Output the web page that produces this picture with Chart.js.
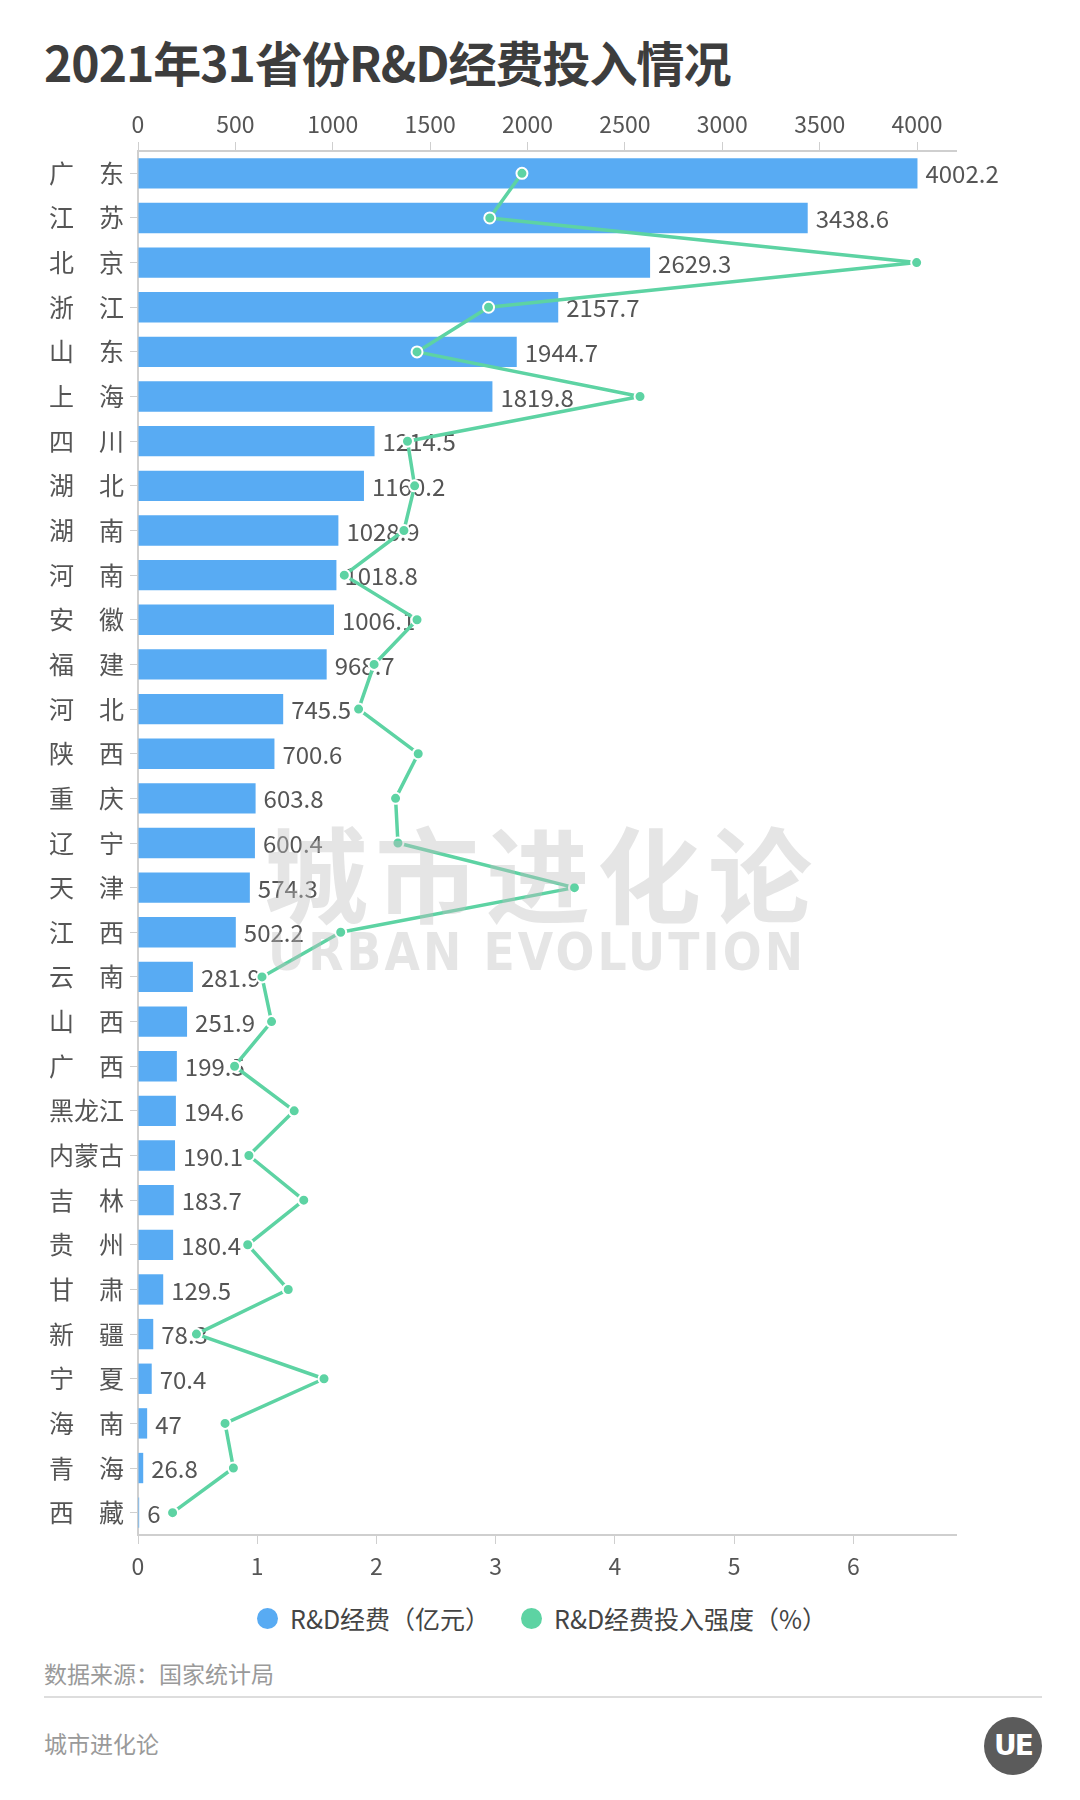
<!DOCTYPE html>
<html>
<head>
<meta charset="utf-8">
<script src="https://cdn.jsdelivr.net/npm/chart.js@4.4.1/dist/chart.umd.min.js"></script>
<style>
  html, body { margin: 0; padding: 0; background: #fff; }
  body { width: 1080px; height: 1800px; position: relative; overflow: hidden; font-family: "Noto Sans CJK SC", "Noto Sans", sans-serif; }
  #chart { position: absolute; left: 0; top: 0; }
  .title { position: absolute; left: 44px; top: 26px; font-size: 48px; font-weight: bold; color: #3d3d3d; letter-spacing: -1px; }
  .wm { position: absolute; pointer-events: none; color: rgba(190,190,190,0.4); font-weight: bold; white-space: nowrap; }
  .wm1 { left: 264px; top: 795px; font-size: 104px; letter-spacing: 7px; }
  .wm2 { left: 268px; top: 922px; font-size: 52px; letter-spacing: 3.5px; font-family: "DejaVu Sans", sans-serif; transform: scaleX(0.88); transform-origin: left top; }
  .legend { position: absolute; top: 1600px; height: 36px; display: flex; align-items: center; font-size: 25px; color: #444; white-space: nowrap; }
  .legend i { display: inline-block; width: 21px; height: 21px; border-radius: 50%; margin-right: 12px; }
  .source { position: absolute; left: 44px; top: 1656px; font-size: 23px; color: #9a9a9a; }
  .rule { position: absolute; left: 44px; top: 1696px; width: 998px; height: 2px; background: #ddd; }
  .brand { position: absolute; left: 44px; top: 1726px; font-size: 23px; color: #9a9a9a; }
  .logo { position: absolute; left: 984px; top: 1717px; width: 58px; height: 58px; border-radius: 50%; background: #5b5b5b; color: #fff; font: bold 28px "DejaVu Sans", sans-serif; text-align: center; line-height: 58px; letter-spacing: -2px; }
</style>
</head>
<body>
<div class="title">2021年31省份R&amp;D经费投入情况</div>
<canvas id="chart" width="1080" height="1600"></canvas>
<div class="wm wm1">城市进化论</div>
<div class="wm wm2">URBAN EVOLUTION</div>
<div class="legend" id="leg1" style="left:257px"></div>
<div class="legend" id="leg2" style="left:521px"></div>
<div class="source">数据来源：国家统计局</div>
<div class="rule"></div>
<div class="brand">城市进化论</div>
<div class="logo">UE</div>
<script>
const provinces = ['广东', '江苏', '北京', '浙江', '山东', '上海', '四川', '湖北', '湖南', '河南',
  '安徽', '福建', '河北', '陕西', '重庆', '辽宁', '天津', '江西', '云南', '山西',
  '广西', '黑龙江', '内蒙古', '吉林', '贵州', '甘肃', '新疆', '宁夏', '海南', '青海', '西藏']

// R&D经费（亿元）
const spending = [4002.2, 3438.6, 2629.3, 2157.7, 1944.7, 1819.8, 1214.5, 1160.2, 1028.9, 1018.8,
  1006.1, 968.7, 745.5, 700.6, 603.8, 600.4, 574.3, 502.2, 281.9, 251.9,
  199.5, 194.6, 190.1, 183.7, 180.4, 129.5, 78.3, 70.4, 47, 26.8, 6]

// R&D经费投入强度（%）
const intensity = [3.22, 2.95, 6.53, 2.94, 2.34, 4.21, 2.26, 2.32, 2.23, 1.73,
  2.34, 1.98, 1.85, 2.35, 2.16, 2.18, 3.66, 1.70, 1.04, 1.12,
  0.81, 1.31, 0.93, 1.39, 0.92, 1.26, 0.49, 1.56, 0.73, 0.80, 0.29]

const topTicks = [0, 500, 1000, 1500, 2000, 2500, 3000, 3500, 4000]
const bottomTicks = [0, 1, 2, 3, 4, 5, 6]
const seriesNames = ['R&D经费（亿元）', 'R&D经费投入强度（%）']

const blue = '#58abf3'
const green = '#5dd3a3'
const axisGray = '#cfcfcf'
const textGray = '#555'

Chart.defaults.font.family = '"Noto Sans CJK SC", "Noto Sans", sans-serif'
Chart.defaults.color = textGray

// value labels to the right of each bar
const barLabels = {
  id: 'barLabels',
  afterDatasetDraw(chart, args) {
    if (args.index !== 0) return
    const ctx = chart.ctx
    ctx.save()
    ctx.font = '24px "Noto Sans CJK SC", sans-serif'
    ctx.fillStyle = textGray
    ctx.textBaseline = 'middle'
    args.meta.data.forEach((bar, i) => {
      ctx.fillText(String(spending[i]), bar.x + 8, bar.y + 1)
    })
    ctx.restore()
  }
}

const keepTicks = list => scale => {
  scale.ticks = list.map(v => ({ value: v }))
}

const chart = new Chart(document.getElementById('chart'), {
  data: {
    labels: provinces,
    datasets: [
      {
        type: 'bar',
        label: seriesNames[0],
        data: spending,
        xAxisID: 'x2',
        backgroundColor: blue,
        barPercentage: 0.68,
        categoryPercentage: 1,
        order: 2
      },
      {
        type: 'line',
        label: seriesNames[1],
        data: intensity,
        xAxisID: 'x',
        borderColor: green,
        backgroundColor: green,
        borderWidth: 3.5,
        borderJoinStyle: 'round',
        pointRadius: 5.5,
        pointBackgroundColor: green,
        pointBorderColor: '#fff',
        pointBorderWidth: 2,
        order: 1
      }
    ]
  },
  options: {
    indexAxis: 'y',
    responsive: false,
    devicePixelRatio: 1,
    animation: false,
    layout: { padding: { left: 0, right: 124, top: 0, bottom: 0 } },
    scales: {
      y: {
        type: 'category',
        afterFit: s => { s.width = 138 },
        grid: { drawOnChartArea: false, offset: false, tickLength: 8, color: axisGray },
        border: { color: axisGray, width: 2 },
        ticks: {
          padding: 6,
          color: textGray,
          font: { size: 25 },
          callback(v) {
            const name = provinces[v]
            return name.length === 2 ? name[0] + '\u3000' + name[1] : name
          }
        }
      },
      x2: {
        axis: 'x',
        type: 'linear',
        position: 'top',
        min: 0,
        max: 4200,
        afterFit: s => { s.height = 151 },
        afterBuildTicks: keepTicks(topTicks),
        grid: { drawOnChartArea: false, tickLength: 9, color: axisGray },
        border: { color: axisGray, width: 2 },
        ticks: { padding: 4, color: textGray, font: { size: 23 }, autoSkip: false, maxRotation: 0, callback: v => String(v) }
      },
      x: {
        axis: 'x',
        type: 'linear',
        position: 'bottom',
        min: 0,
        max: 6.86,
        afterFit: s => { s.height = 65 },
        afterBuildTicks: keepTicks(bottomTicks),
        grid: { drawOnChartArea: false, tickLength: 9, color: axisGray },
        border: { color: axisGray, width: 2 },
        ticks: { padding: 8, color: textGray, font: { size: 23 }, autoSkip: false, maxRotation: 0, callback: v => String(v) }
      }
    },
    plugins: {
      legend: { display: false },
      tooltip: { enabled: false }
    }
  },
  plugins: [barLabels]
})

// legend built from the datasets
chart.data.datasets.forEach((ds, i) => {
  const el = document.getElementById('leg' + (i + 1))
  const dot = document.createElement('i')
  dot.style.background = i === 0 ? blue : green
  el.appendChild(dot)
  el.appendChild(document.createTextNode(ds.label))
})
</script>
</body>
</html>
